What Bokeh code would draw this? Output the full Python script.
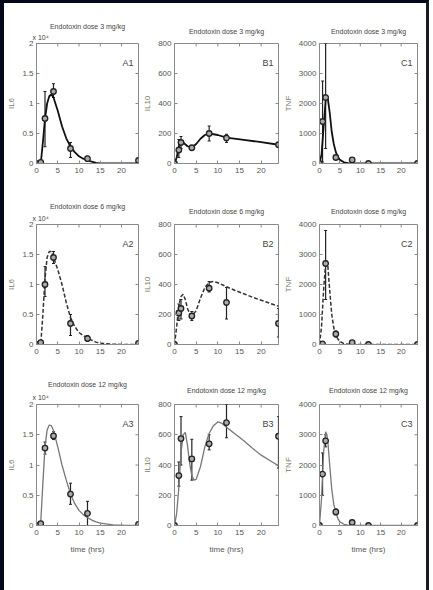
import math
from bokeh.plotting import figure
from bokeh.layouts import column, row
from bokeh.models import Range1d, FixedTicker, Label, Title, Whisker, ColumnDataSource, TeeHead
from bokeh.embed import file_html
from bokeh.resources import INLINE

# ---------------- data ----------------
doses = ["3", "6", "12"]
x_ticks = [0, 5, 10, 15, 20]

# IL6 (x 10^4) model curves
il6_t = [0, 1, 1.5, 2, 2.5, 3, 3.5, 4, 5, 6, 7, 8, 9, 10, 11, 12, 13, 14, 15, 18, 21, 24]
il6_fit_3 = [0, 0, 0.35, 0.75, 1.0, 1.12, 1.15, 1.1, 0.88, 0.62, 0.42, 0.28, 0.19, 0.12, 0.08, 0.05, 0.03, 0.01, 0, 0, 0, 0]
il6_fit_6 = [0, 0, 0.5, 1.1, 1.45, 1.55, 1.55, 1.45, 1.25, 1.0, 0.7, 0.45, 0.3, 0.2, 0.15, 0.11, 0.07, 0.04, 0.02, 0.005, 0, 0]
il6_fit_12 = [0, 0.05, 0.7, 1.3, 1.58, 1.66, 1.65, 1.57, 1.3, 1.0, 0.75, 0.52, 0.36, 0.25, 0.18, 0.13, 0.09, 0.06, 0.04, 0.01, 0, 0]

# IL10 model curves
il10_t_3 = [0, 0.5, 1, 1.5, 2, 3, 4, 5, 6, 7, 8, 10, 12, 16, 20, 24]
il10_fit_3 = [0, 40, 110, 150, 140, 115, 105, 130, 165, 190, 200, 190, 172, 158, 142, 125]
il10_t_6 = [0, 0.5, 1, 1.5, 2, 2.5, 3, 3.5, 4, 5, 6, 7, 8, 9, 10, 12, 14, 16, 18, 20, 22, 24]
il10_fit_6 = [0, 120, 260, 320, 335, 300, 240, 205, 190, 225, 310, 380, 415, 420, 412, 385, 360, 338, 315, 295, 275, 255]
il10_t_12 = [0, 0.5, 1, 1.5, 2, 2.5, 3, 3.5, 4, 4.5, 5, 6, 7, 8, 9, 10, 11, 12, 14, 16, 18, 20, 22, 24]
il10_fit_12 = [0, 80, 250, 480, 600, 615, 530, 410, 330, 300, 305, 390, 520, 610, 660, 685, 675, 650, 605, 560, 510, 465, 430, 395]

# TNF model curves
tnf_t = [0, 0.5, 1, 1.5, 1.8, 2, 2.5, 3, 3.5, 4, 4.5, 5, 6, 7, 8, 12, 24]
tnf_fit_3 = [0, 300, 1200, 2100, 2270, 2200, 1700, 1050, 650, 380, 220, 120, 40, 10, 0, 0, 0]
tnf_fit_6 = [0, 600, 1800, 2700, 2800, 2700, 1800, 1000, 550, 320, 180, 100, 30, 10, 0, 0, 0]
tnf_fit_12 = [0, 900, 2400, 3100, 3000, 2850, 2000, 1200, 700, 420, 230, 120, 40, 10, 0, 0, 0]

# measured data (mean, low, high)
il6_obs_t = [0, 1, 2, 4, 8, 12, 24]
il6_obs_3 = [0, 0.02, 0.75, 1.2, 0.25, 0.08, 0.05]
il6_lo_3 = [0, 0.02, 0.28, 1.1, 0.1, 0.04, 0.03]
il6_hi_3 = [0, 0.02, 1.2, 1.33, 0.35, 0.12, 0.07]
il6_obs_6 = [0, 0.03, 1.0, 1.45, 0.35, 0.1, 0.02]
il6_lo_6 = [0, 0.03, 0.8, 1.35, 0.15, 0.05, 0.02]
il6_hi_6 = [0, 0.03, 1.3, 1.55, 0.5, 0.15, 0.02]
il6_obs_12 = [0, 0.03, 1.28, 1.48, 0.52, 0.2, 0.02]
il6_lo_12 = [0, 0.03, 1.18, 1.42, 0.35, 0.0, 0.02]
il6_hi_12 = [0, 0.03, 1.38, 1.55, 0.7, 0.4, 0.02]

il10_obs_t = [0, 1, 1.5, 4, 8, 12, 24]
il10_obs_3 = [0, 90, 140, 105, 200, 170, 125]
il10_lo_3 = [0, 40, 100, 90, 150, 140, 110]
il10_hi_3 = [0, 160, 180, 120, 250, 195, 140]
il10_obs_6 = [0, 210, 240, 190, 375, 280, 140]
il10_lo_6 = [0, 160, 170, 160, 350, 170, 50]
il10_hi_6 = [0, 270, 300, 220, 420, 380, 240]
il10_obs_12 = [0, 330, 575, 440, 540, 680, 590]
il10_lo_12 = [0, 260, 400, 300, 500, 580, 380]
il10_hi_12 = [0, 420, 720, 570, 600, 800, 720]

tnf_obs_t = [0, 0.75, 1.5, 4, 8, 12, 24]
tnf_obs_3 = [0, 1400, 2200, 200, 120, 0, 0]
tnf_lo_3 = [0, 50, 500, 150, 80, 0, 0]
tnf_hi_3 = [0, 2750, 4000, 250, 160, 0, 0]
tnf_obs_6 = [0, 20, 2700, 350, 60, 0, 0]
tnf_lo_6 = [0, 20, 1500, 250, 30, 0, 0]
tnf_hi_6 = [0, 20, 3800, 450, 90, 0, 0]
tnf_obs_12 = [0, 1700, 2800, 450, 100, 0, 0]
tnf_lo_12 = [0, 1000, 2600, 350, 60, 0, 0]
tnf_hi_12 = [0, 2400, 3000, 550, 140, 0, 0]

# ---------------- styling ----------------
FONT = "Liberation Sans"
GRAY = "#8a8a8a"
TXT = "#555555"

row_styles = [
    dict(line_color="#111111", line_width=1.8, line_dash="solid"),
    dict(line_color="#333333", line_width=1.5, line_dash="4 2"),
    dict(line_color="#777777", line_width=1.3, line_dash="solid"),
]

col_specs = [
    dict(label="IL6", ymax=2, yticks=[0, 0.5, 1, 1.5, 2],
         overrides={0: "0", 0.5: "0.5", 1: "1", 1.5: "1.5", 2: "2"},
         left=28, fw=106, right=2, letter="A"),
    dict(label="IL10", ymax=800, yticks=[0, 200, 400, 600, 800], overrides=None,
         left=31, fw=107, right=2, letter="B"),
    dict(label="TNF", ymax=4000, yticks=[0, 1000, 2000, 3000, 4000], overrides=None,
         left=31, fw=106, right=9, letter="C"),
]
# st: title standoff for B/C panels; A panels stack the "x 10^4" line under the title
row_specs = [dict(top=40, fh=120, bottom=18, st=18),
             dict(top=43, fh=120, bottom=17, st=19),
             dict(top=43, fh=121, bottom=65, st=22)]
exp_standoff = [5, 6, 8]

curves = [
    [(il6_t, il6_fit_3), (il10_t_3, il10_fit_3), (tnf_t, tnf_fit_3)],
    [(il6_t, il6_fit_6), (il10_t_6, il10_fit_6), (tnf_t, tnf_fit_6)],
    [(il6_t, il6_fit_12), (il10_t_12, il10_fit_12), (tnf_t, tnf_fit_12)],
]
obs = [
    [(il6_obs_t, il6_obs_3, il6_lo_3, il6_hi_3), (il10_obs_t, il10_obs_3, il10_lo_3, il10_hi_3), (tnf_obs_t, tnf_obs_3, tnf_lo_3, tnf_hi_3)],
    [(il6_obs_t, il6_obs_6, il6_lo_6, il6_hi_6), (il10_obs_t, il10_obs_6, il10_lo_6, il10_hi_6), (tnf_obs_t, tnf_obs_6, tnf_lo_6, tnf_hi_6)],
    [(il6_obs_t, il6_obs_12, il6_lo_12, il6_hi_12), (il10_obs_t, il10_obs_12, il10_lo_12, il10_hi_12), (tnf_obs_t, tnf_obs_12, tnf_lo_12, tnf_hi_12)],
]


def style_axis(ax, ticks, overrides=None):
    ax.ticker = FixedTicker(ticks=ticks)
    ax.minor_tick_line_color = None
    ax.major_tick_in = 3
    ax.major_tick_out = 0
    ax.major_tick_line_color = GRAY
    ax.axis_line_color = GRAY
    ax.major_label_text_font = FONT
    ax.major_label_text_color = TXT
    ax.major_label_text_font_size = "8px"
    ax.major_label_standoff = 3
    if overrides:
        ax.major_label_overrides = overrides


def style_title(t, standoff):
    t.text_font = FONT
    t.text_font_size = "7px"
    t.text_font_style = "normal"
    t.text_color = "#444444"
    t.standoff = standoff


rows = []
for ri in range(3):
    figs = []
    rs = row_specs[ri]
    last = ri == 2
    for ci in range(3):
        cs = col_specs[ci]
        p = figure(width=cs["left"] + cs["fw"] + cs["right"],
                   height=rs["top"] + rs["fh"] + rs["bottom"],
                   x_range=Range1d(0, 24), y_range=Range1d(0, cs["ymax"]),
                   output_backend="svg", toolbar_location=None,
                   min_border_left=cs["left"], min_border_right=cs["right"],
                   min_border_top=rs["top"], min_border_bottom=rs["bottom"],
                   title="Endotoxin dose %s mg/kg" % doses[ri])
        p.title.align = "center"
        if ci == 0:
            exp = Title(text="x 10⁴", align="left", offset=-4)
            style_title(exp, exp_standoff[ri])
            p.add_layout(exp, "above")
            style_title(p.title, 0)
        else:
            style_title(p.title, rs["st"])
        p.grid.visible = False
        p.outline_line_color = GRAY
        p.background_fill_color = "white"
        p.border_fill_color = "white"

        style_axis(p.xaxis[0], x_ticks)
        style_axis(p.yaxis[0], cs["yticks"], cs["overrides"])
        p.xaxis[0].major_label_standoff = 4
        p.yaxis[0].axis_label = cs["label"]
        p.yaxis[0].axis_label_text_font = FONT
        p.yaxis[0].axis_label_text_font_size = "8px"
        p.yaxis[0].axis_label_text_font_style = "normal"
        p.yaxis[0].axis_label_text_color = "#7a7a6a"
        p.yaxis[0].axis_label_standoff = 3
        if last:
            p.xaxis[0].axis_label = "time (hrs)"
            p.xaxis[0].axis_label_text_font = FONT
            p.xaxis[0].axis_label_text_font_size = "8px"
            p.xaxis[0].axis_label_text_font_style = "normal"
            p.xaxis[0].axis_label_text_color = TXT
            p.xaxis[0].axis_label_standoff = 7

        # inward ticks on top and right edges (half of each dash is clipped by the frame)
        p.scatter(x=x_ticks, y=[cs["ymax"]] * len(x_ticks), marker="dash", size=6,
                  angle=math.pi / 2, line_color=GRAY, line_width=1)
        p.scatter(x=[24] * len(cs["yticks"]), y=cs["yticks"], marker="dash", size=6,
                  line_color=GRAY, line_width=1)

        st = row_styles[ri]
        ct, cv = curves[ri][ci]
        p.line(ct, cv, **st)

        ot, ov, olo, ohi = obs[ri][ci]
        src = ColumnDataSource(dict(t=ot, v=ov, lo=olo, hi=ohi))
        w = Whisker(source=src, base="t", lower="lo", upper="hi", dimension="height",
                    line_color="#222222", line_width=1.2,
                    lower_head=TeeHead(size=3, line_color="#222222"),
                    upper_head=TeeHead(size=3, line_color="#222222"))
        p.add_layout(w)
        p.scatter("t", "v", source=src, size=5.5, marker="circle",
                  line_color="#222222", line_width=1.3, fill_color="#aaaaaa")

        p.add_layout(Label(x=24, y=cs["ymax"], x_offset=-5, y_offset=-14,
                           text="%s%d" % (cs["letter"], ri + 1), text_align="right",
                           text_baseline="top", text_font=FONT, text_font_size="9px",
                           text_color="#444444"))
        figs.append(p)
    rows.append(row(*figs))

layout = column(*rows, styles={"border-left": "4px solid #05071a",
                               "border-top": "3px solid #05071a",
                               "border-right": "3px solid #1a1a26"})
open("out.html", "w").write(file_html(layout, INLINE))
